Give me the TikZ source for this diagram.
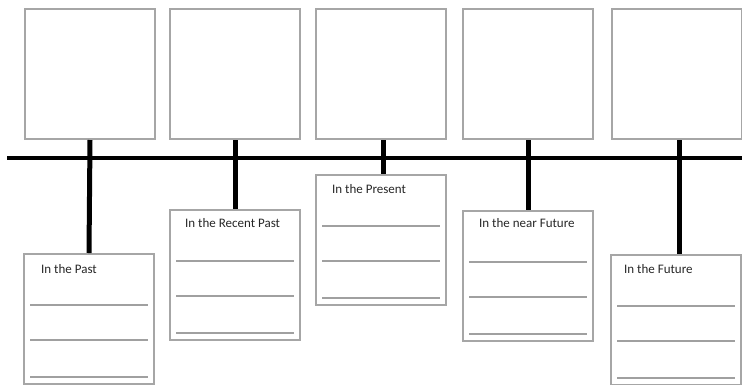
\documentclass[tikz,border=0pt]{standalone}
\usepackage{fontspec}
\setmainfont{Carlito}
\usetikzlibrary{calc}
\definecolor{boxgray}{HTML}{A6A6A6}
\definecolor{linegray}{HTML}{A0A0A0}
\definecolor{txtgray}{HTML}{262626}
\begin{document}
\begin{tikzpicture}[x=1pt,y=-1pt,
  topbox/.style={draw=boxgray, line width=2pt, minimum width=130pt, minimum height=130pt, inner sep=0pt, anchor=north west},
  notebox/.style={draw=boxgray, line width=2pt, minimum width=130pt, minimum height=130pt, inner sep=0pt, anchor=north west},
  title/.style={anchor=west, inner sep=0pt, font=\fontsize{13}{15}\selectfont, text=txtgray},
  writeline/.style={draw=linegray, line width=1.8pt},
  axis/.style={draw=black, line width=4pt},
  stem/.style={draw=black, line width=5pt}]
\useasboundingbox (0,0) rectangle (742,384);
% top boxes
\node[topbox] (t1) at (24,8) {};
\node[topbox] (t2) at (169,8) {};
\node[topbox] (t3) at (315,8) {};
\node[topbox] (t4) at (462,8) {};
\node[topbox] (t5) at (611,8) {};
% note boxes
\node[notebox] (b1) at (23,253) {};
\node[notebox] (b2) at (169,209) {};
\node[notebox] (b3) at (315,174) {};
\node[notebox] (b4) at (462,210) {};
\node[notebox] (b5) at (610,254) {};
% connectors
\draw[stem] (t1.south) -- (b1.north);
\draw[stem] (t2.south) -- (b2.north);
\draw[stem] ($(t3.south)+(2.5,0)$) -- ($(b3.north)+(2.5,0)$);
\draw[stem] (t4.south) -- (b4.north);
\draw[stem] ($(t5.south)+(2,0)$) -- ($(b5.north)+(3,0)$);
% timeline axis
\coordinate (axl) at (7,158);
\coordinate (axr) at (742,158);
\draw[axis] (axl) -- (axr);
% titles
\node[title] (l1) at ($(b1.north west)+(18,16)$) {In the Past};
\node[title] (l2) at ($(b2.north west)+(16,14)$) {In the Recent Past};
\node[title] (l3) at ($(b3.north west)+(17,15)$) {In the Present};
\node[title] (l4) at ($(b4.north west)+(17,13)$) {In the near Future};
\node[title] (l5) at ($(b5.north west)+(14,15)$) {In the Future};
% writing lines
\foreach \i in {1,...,5} {
  \foreach \d in {52,87,124} {
    \draw[writeline] ($(b\i.north west)+(7,\d)$) -- ($(b\i.north east)+(-7,\d)$);
  }
}
\end{tikzpicture}
\end{document}
